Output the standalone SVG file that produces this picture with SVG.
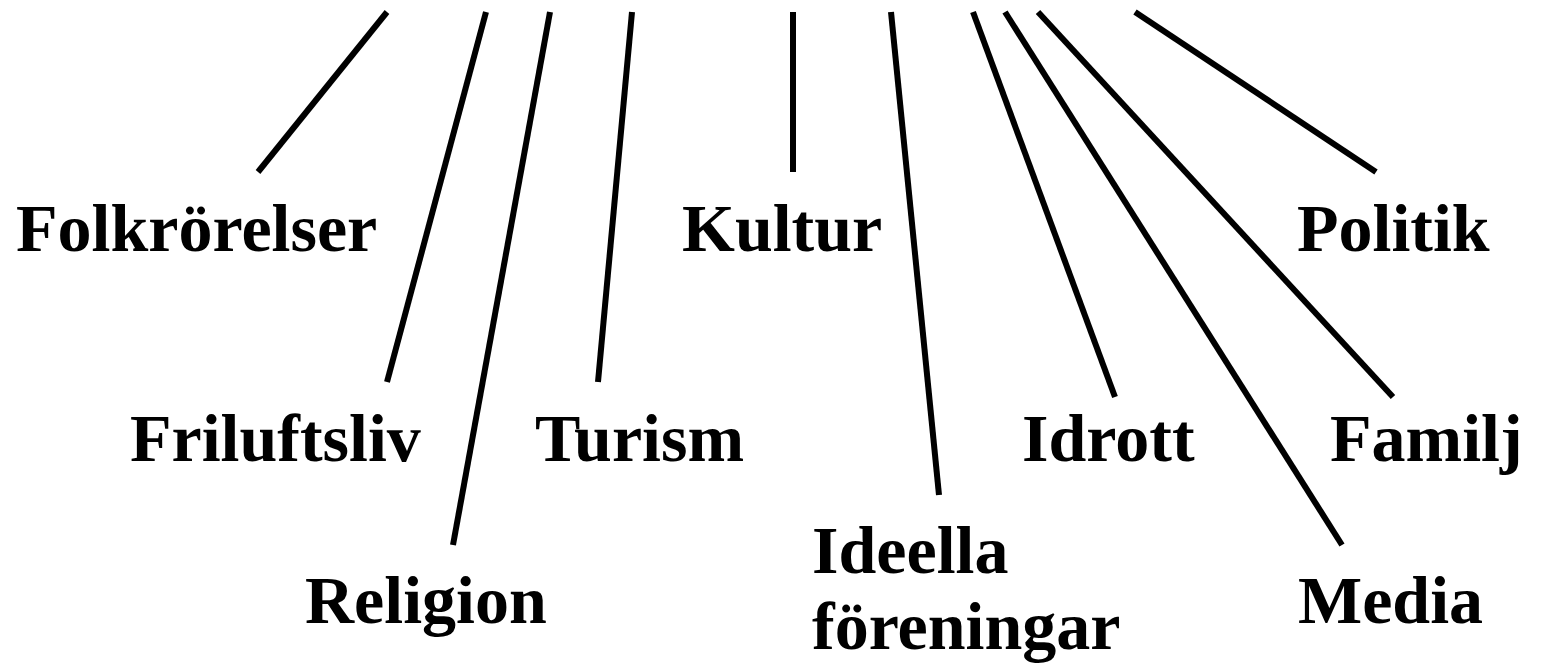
<svg xmlns="http://www.w3.org/2000/svg" width="1548" height="664" viewBox="0 0 1548 664">
<style>
.l{stroke:#000;stroke-width:6;fill:none}
.t{font-family:"Liberation Serif","Times New Roman",serif;font-weight:bold;font-size:68px;fill:#000}
</style>
<rect width="1548" height="664" fill="#fff"/>
<g id="connectors">
<line class="l" x1="387" y1="12" x2="258" y2="172"/>
<line class="l" x1="486" y1="12" x2="387" y2="382"/>
<line class="l" x1="550" y1="12" x2="453" y2="545"/>
<line class="l" x1="632" y1="12" x2="598" y2="382"/>
<line class="l" x1="793" y1="12" x2="793" y2="172"/>
<line class="l" x1="891" y1="12" x2="939" y2="495"/>
<line class="l" x1="973" y1="12" x2="1115" y2="397"/>
<line class="l" x1="1005" y1="12" x2="1342" y2="545"/>
<line class="l" x1="1038" y1="12" x2="1393" y2="397"/>
<line class="l" x1="1135" y1="12" x2="1376" y2="172"/>
</g>
<g id="folkrorelser"><text class="t" x="16" y="251">Folkrörelser</text></g>
<g id="friluftsliv"><text class="t" x="130" y="461">Friluftsliv</text></g>
<g id="religion"><text class="t" x="305" y="623">Religion</text></g>
<g id="turism"><text class="t" x="535" y="461">Turism</text></g>
<g id="kultur"><text class="t" x="682" y="251">Kultur</text></g>
<g id="ideella"><text class="t" x="812" y="573">Ideella</text><text class="t" x="812" y="649">föreningar</text></g>
<g id="idrott"><text class="t" x="1022" y="461">Idrott</text></g>
<g id="familj"><text class="t" x="1330" y="461">Familj</text></g>
<g id="politik"><text class="t" x="1297" y="251">Politik</text></g>
<g id="media"><text class="t" x="1298" y="623">Media</text></g>
</svg>
